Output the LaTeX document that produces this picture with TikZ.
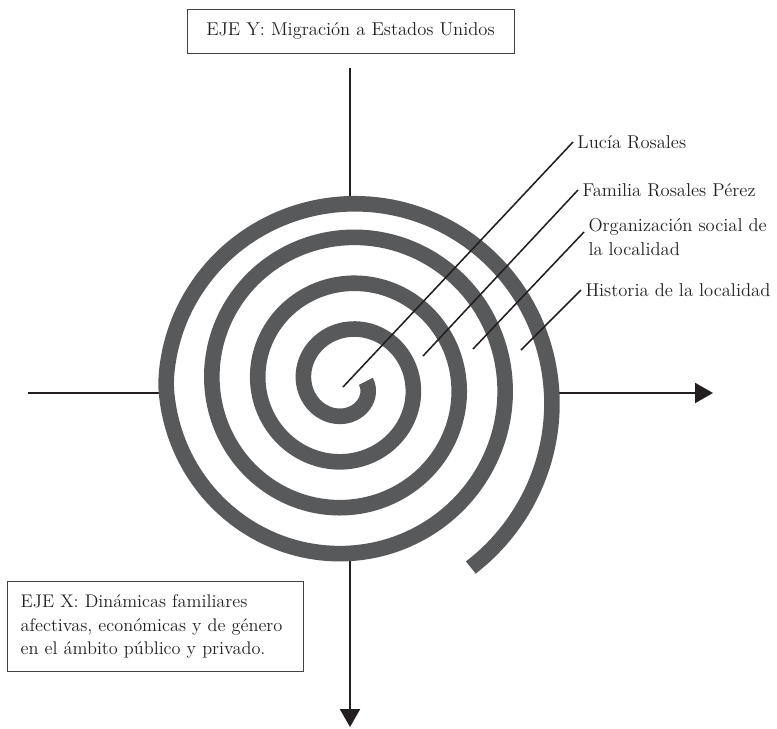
\documentclass[tikz,border=0pt]{standalone}
\usepackage{fontspec}
\usetikzlibrary{arrows.meta}

\definecolor{bandgray}{RGB}{88,89,91}
\definecolor{inkblack}{RGB}{35,31,32}

\begin{document}
\begin{tikzpicture}[
    axisline/.style={line width=1.4pt, draw=inkblack},
    axistip/.style={-{Triangle[length=0.45cm,width=0.5cm]}},
    leader/.style={line width=1.1pt, draw=inkblack},
    labeltext/.style={font=\fontsize{13.2pt}{17pt}\selectfont, text=inkblack, inner sep=3pt},
    axisbox/.style={labeltext, draw=inkblack!85, line width=0.7pt},
    spiralband/.style={line width=0.39cm, draw=bandgray},
    declare function={spiralr(\t)=0.5+1.15*\t/360+(\t>1260)*0.31*sin(\t);}
]
    \useasboundingbox (-8.675,-8.6) rectangle (10.75,9.6);

    % Axis boxes
    \node[axisbox, minimum width=8.175cm, minimum height=1.1cm] (ejey) at (0.0875,8.825) {EJE Y: Migración a Estados Unidos};
    \node[axisbox, font=\fontsize{13pt}{17pt}\selectfont, anchor=south west, align=left, text width=6.75cm, inner xsep=0.33cm, minimum height=2.25cm] (ejex) at (-8.5,-7.2)
        {EJE X: Dinámicas familiares\\ afectivas, económicas y de género\\ en el ámbito público y privado.};

    % Axes, drawn below the spiral
    \draw[axisline] (0.075,7.9) -- (0.075,4.5); % top
    \draw[axisline, axistip] (0.075,-4.25) -- (0.075,-8.575); % bottom
    \draw[axisline] (-7.975,-0.225) -- (-4.5,-0.225); % left
    \draw[axisline, axistip] (5.1,-0.225) -- (9.15,-0.225); % right

    % Spiral, clockwise from the centre
    \draw[spiralband] plot[domain=-8:1496, samples=400, smooth] ({spiralr(\x)*cos(\x)}, {-spiralr(\x)*sin(\x)});

    % Labels
    \node[labeltext, anchor=west] (lucia) at (5.65,6.05) {Lucía Rosales};
    \node[labeltext, anchor=west] (familia) at (5.775,4.85) {Familia Rosales Pérez};
    \node[labeltext, anchor=north west, align=left] (organizacion) at (5.925,4.25) {Organización social de\\ la localidad};
    \node[labeltext, anchor=west] (historia) at (5.85,2.35) {Historia de la localidad};

    % Leader lines, on top of the spiral
    \coordinate (lucia-in) at (-0.1,-0.075);
    \coordinate (familia-in) at (1.9,0.7);
    \coordinate (organizacion-in) at (3.15,0.875);
    \coordinate (historia-in) at (4.35,0.85);
    \draw[leader] (lucia-in) -- (lucia.west);
    \draw[leader] (familia-in) -- (familia.west);
    \draw[leader] (organizacion-in) -- ([yshift=-0.45cm]organizacion.north west);
    \draw[leader] (historia-in) -- (historia.west);
\end{tikzpicture}
\end{document}
